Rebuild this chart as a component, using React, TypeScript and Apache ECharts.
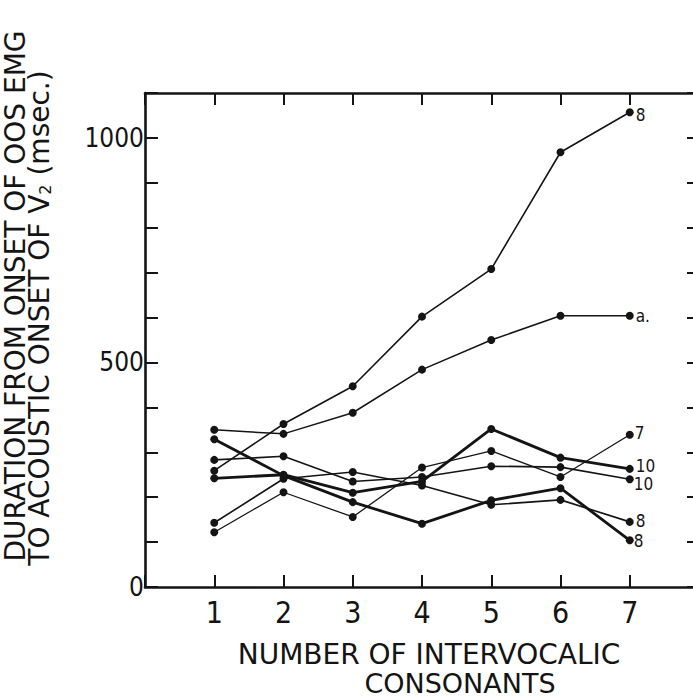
import React, { useEffect, useRef } from "react";
import * as echarts from "echarts";

const xValues = [1, 2, 3, 4, 5, 6, 7];
const yTickLabels = ["0", "500", "1000"];

const series8Top = [259, 363, 447, 602, 708, 968, 1057];
const seriesA = [350, 341, 388, 484, 550, 604, 604];
const series7 = [122, 211, 156, 266, 303, 245, 339];
const series10Thick = [242, 250, 210, 235, 352, 288, 263];
const series10Thin = [283, 291, 235, 245, 269, 267, 240];
const series8Thin = [143, 241, 256, 226, 183, 194, 145];
const series8Thick = [329, 248, 189, 141, 193, 220, 104];

const endLabels = ["8", "a.", "7", "10", "10", "8", "8"];

const INK = "#141414";
const FONT = "'DejaVu Sans Condensed', 'DejaVu Sans', sans-serif";

export default function App() {
  const ref = useRef<HTMLDivElement | null>(null);

  useEffect(() => {
    if (!ref.current) return;
    const chart = echarts.init(ref.current, undefined, { renderer: "svg" });

    const defs = [
      { name: "8 (top)", values: series8Top, width: 1.6, label: endLabels[0], offset: [0, 3] },
      { name: "a.", values: seriesA, width: 1.5, label: endLabels[1], offset: [0, 0] },
      { name: "7", values: series7, width: 1.3, label: endLabels[2], offset: [-1, -2] },
      { name: "10 (thick)", values: series10Thick, width: 2.8, label: endLabels[3], offset: [0, -3] },
      { name: "10 (thin)", values: series10Thin, width: 1.6, label: endLabels[4], offset: [-2, 5] },
      { name: "8 (thin)", values: series8Thin, width: 1.6, label: endLabels[5], offset: [0, -1] },
      { name: "8 (thick)", values: series8Thick, width: 2.8, label: endLabels[6], offset: [-2, 1] },
    ];

    const series = defs.map((d) => ({
      name: d.name,
      type: "line",
      xAxisIndex: 0,
      yAxisIndex: 0,
      symbol: "circle",
      symbolSize: 8,
      showAllSymbol: true,
      lineStyle: { color: INK, width: d.width },
      itemStyle: { color: INK },
      data: d.values.map((v, i) => {
        const item: any = { value: [xValues[i], v] };
        if (i === d.values.length - 1) {
          item.label = {
            show: true,
            position: "right",
            distance: 2,
            offset: d.offset,
            formatter: d.label,
            color: INK,
            fontFamily: FONT,
            fontSize: 17,
            lineHeight: 15,
          };
        }
        return item;
      }),
      label: { show: false },
      z: 3,
    }));

    const axisLineStyle = { show: true, onZero: false, lineStyle: { color: INK, width: 2.6 } };

    chart.setOption({
      animation: false,
      backgroundColor: "#ffffff",
      grid: {
        left: 145,
        top: 93,
        right: -6,
        bottom: 113,
        containLabel: false,
        outerBoundsMode: "none",
      },
      xAxis: [
        {
          type: "value",
          position: "bottom",
          min: 0,
          max: 8,
          interval: 1,
          axisLine: axisLineStyle,
          axisTick: { show: true, inside: true, length: 12, lineStyle: { color: INK, width: 2 } },
          axisLabel: {
            show: true,
            margin: 10,
            color: INK,
            fontFamily: FONT,
            fontSize: 30,
            formatter: (v: number) => (v >= 1 && v <= 7 ? String(v) : ""),
          },
          splitLine: { show: false },
        },
        {
          type: "value",
          position: "top",
          min: 0,
          max: 8,
          interval: 1,
          axisLine: axisLineStyle,
          axisTick: { show: true, inside: true, length: 12, lineStyle: { color: INK, width: 2 } },
          axisLabel: { show: false },
          splitLine: { show: false },
        },
      ],
      yAxis: [
        {
          type: "value",
          position: "left",
          min: 0,
          max: 1100,
          interval: 100,
          axisLine: axisLineStyle,
          axisTick: { show: true, inside: true, length: 13, lineStyle: { color: INK, width: 2 } },
          axisLabel: {
            show: true,
            margin: 1,
            color: INK,
            fontFamily: FONT,
            fontSize: 26,
            formatter: (v: number) => (yTickLabels.includes(String(v)) ? String(v) : ""),
          },
          splitLine: { show: false },
        },
        {
          type: "value",
          position: "right",
          min: 0,
          max: 1100,
          interval: 100,
          axisLine: axisLineStyle,
          axisTick: { show: true, inside: true, length: 12, lineStyle: { color: INK, width: 2 } },
          axisLabel: { show: false },
          splitLine: { show: false },
        },
      ],
      graphic: [
        {
          type: "text",
          x: 15,
          y: 296,
          rotation: Math.PI / 2,
          style: {
            text: "DURATION FROM ONSET OF OOS EMG",
            fill: INK,
            font: `28px 'DejaVu Sans', sans-serif`,
            lineHeight: 24,
            align: "center",
            verticalAlign: "middle",
          },
        },
        {
          type: "text",
          x: 39,
          y: 318,
          rotation: Math.PI / 2,
          style: {
            text: "TO ACOUSTIC ONSET OF V{sub|2} (msec.)",
            fill: INK,
            font: `28px 'DejaVu Sans', sans-serif`,
            lineHeight: 24,
            align: "center",
            verticalAlign: "middle",
            rich: {
              sub: {
                fontFamily: "'DejaVu Sans', sans-serif",
                fontSize: 16,
                fill: INK,
                padding: [13, 0, 0, 0],
              },
            },
          },
        },
        {
          type: "text",
          x: 429,
          y: 654,
          style: {
            text: "NUMBER OF INTERVOCALIC",
            fill: INK,
            font: `28px 'DejaVu Sans', sans-serif`,
            align: "center",
            verticalAlign: "middle",
          },
        },
        {
          type: "text",
          x: 460,
          y: 683,
          style: {
            text: "CONSONANTS",
            fill: INK,
            font: `27px 'DejaVu Sans', sans-serif`,
            lineHeight: 20,
            align: "center",
            verticalAlign: "middle",
          },
        },
      ],
      series,
    });

    return () => {
      chart.dispose();
    };
  }, []);

  return (
    <div
      ref={ref}
      style={{ position: "absolute", left: 0, top: 0, width: 693, height: 700, background: "#fff" }}
    />
  );
}
